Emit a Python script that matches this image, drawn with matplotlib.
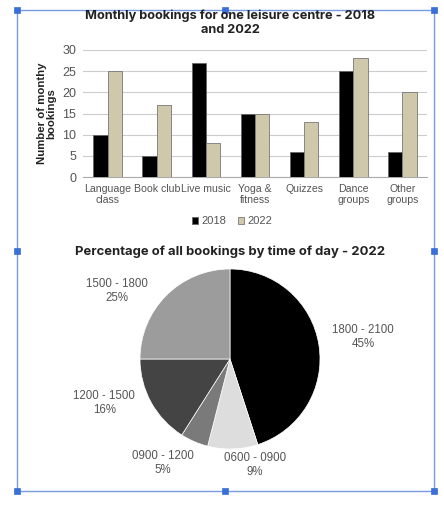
import matplotlib
matplotlib.use("Agg")
import matplotlib.pyplot as plt
import numpy as np
from matplotlib.patches import Rectangle

categories = ["Language\nclass", "Book club", "Live music", "Yoga &\nfitness", "Quizzes", "Dance\ngroups", "Other\ngroups"]
bookings_2018 = [10, 5, 27, 15, 6, 25, 6]
bookings_2022 = [25, 17, 8, 15, 13, 28, 20]
series_names = ["2018", "2022"]
y_ticks = [0, 5, 10, 15, 20, 25, 30]

pie_labels = ["1800 - 2100", "0600 - 0900", "0900 - 1200", "1200 - 1500", "1500 - 1800"]
pie_values = [45, 9, 5, 16, 25]

W, H = 444, 512
fig = plt.figure(figsize=(W / 100, H / 100), dpi=100)
fig.patch.set_facecolor("white")

def fx(x):
    return x / W

def fy(y):
    return 1 - y / H

TXT = "#555555"
lab_font = "Liberation Sans"
title_font = "Inter"

# ---------- Bar chart ----------
ax = fig.add_axes([fx(83), fy(177), fx(427) - fx(83), fy(50) - fy(177)])
x = np.arange(len(categories))
bw = 0.29
ax.bar(x - bw / 2, bookings_2018, bw, color="#000000", edgecolor="#666666", linewidth=0.6, label=series_names[0], zorder=3)
ax.bar(x + bw / 2, bookings_2022, bw, color="#cfc8aa", edgecolor="#777777", linewidth=0.6, label=series_names[1], zorder=3)
ax.set_xlim(-0.5, len(categories) - 0.5)
ax.set_ylim(0, 30)
ax.set_yticks(y_ticks)
ax.set_yticklabels([str(t) for t in y_ticks], fontsize=9, color=TXT, family=lab_font)
ax.set_xticks(x)
ax.set_xticklabels(categories, fontsize=7.6, color=TXT, family=lab_font, linespacing=1.1)
ax.tick_params(length=0, pad=5)
ax.grid(axis="y", color="#cccccc", linewidth=0.8, zorder=0)
for s in ["left", "right", "top"]:
    ax.spines[s].set_visible(False)
ax.spines["bottom"].set_color("#aaaaaa")
ax.set_ylabel("Number of monthy\nbookings", fontsize=8.2, fontweight="bold", family=lab_font, color="#222222", labelpad=4, linespacing=1.0)
ax.set_facecolor("none")

fig.text(fx(230), fy(22.5), "Monthly bookings for one leisure centre - 2018\nand 2022", ha="center", va="center",
         fontsize=9.2, fontweight="bold", family=title_font, color="#222222", linespacing=1.2)

handles = [Rectangle((0, 0), 1, 1, facecolor="#000000", edgecolor="#666666", linewidth=0.6),
           Rectangle((0, 0), 1, 1, facecolor="#cfc8aa", edgecolor="#777777", linewidth=0.6)]
fig.legend(handles, series_names, loc="center", bbox_to_anchor=(fx(232), fy(221)), ncol=2, frameon=False,
           prop={"family": lab_font, "size": 8}, handlelength=0.6, handleheight=0.6, handletextpad=0.3,
           columnspacing=1.0, labelcolor=TXT)

# ---------- Pie chart ----------
r = 90
pax = fig.add_axes([fx(230 - r), fy(359 + r), fx(2 * r), 2 * r / H])
pie_colors = ["#000000", "#dddddd", "#7a7a7a", "#444444", "#9c9c9c"]
wedges, _ = pax.pie(pie_values, colors=pie_colors, startangle=90, counterclock=False,
                    wedgeprops={"linewidth": 0.5, "edgecolor": "white"})
pax.set_xlim(-1, 1)
pax.set_ylim(-1, 1)
pax.set_aspect("equal")

label_angles = [9.4, -76.7, -122.8, -160.7, 149.0]
label_dists = [1.5, 1.21, 1.37, 1.48, 1.46]
for lab, val, a, d in zip(pie_labels, pie_values, label_angles, label_dists):
    t = np.deg2rad(a)
    pax.text(d * np.cos(t), d * np.sin(t), f"{lab}\n{val}%", ha="center", va="center",
             fontsize=8.3, color=TXT, family=lab_font, linespacing=1.25, clip_on=False)

fig.text(fx(230), fy(252), "Percentage of all bookings by time of day - 2022", ha="center", va="center",
         fontsize=9.4, fontweight="bold", family=title_font, color="#222222")

# ---------- selection frame ----------
blue = "#3a6fd8"
frame = Rectangle((fx(17), fy(491)), fx(434) - fx(17), fy(10) - fy(491), transform=fig.transFigure,
                  fill=False, edgecolor="#7a9be0", linewidth=1.0)
fig.add_artist(frame)
for hx, hy in [(17, 10), (225, 10), (434, 10), (17, 251), (434, 251), (17, 491), (225, 491), (434, 491)]:
    s = 6
    fig.add_artist(Rectangle((fx(hx - s / 2), fy(hy + s / 2)), s / W, s / H, transform=fig.transFigure,
                             facecolor=blue, edgecolor=blue, linewidth=0.5))

fig.savefig("out.png", dpi=100)
